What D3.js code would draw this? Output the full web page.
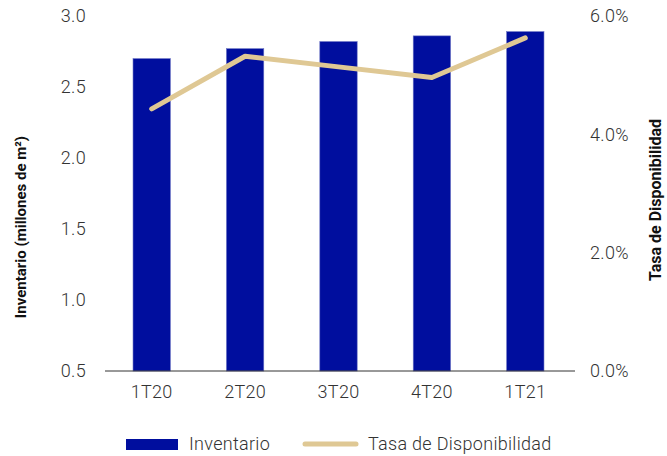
<!DOCTYPE html>
<html>
<head>
<meta charset="utf-8">
<script src="https://cdn.jsdelivr.net/npm/d3@7"></script>
<style>
body { margin: 0; background: #fff; }
svg text { font-family: Roboto, "Liberation Sans", sans-serif; }
</style>
</head>
<body>
<div class="chart"></div>
<script>
var categories = ["1T20", "2T20", "3T20", "4T20", "1T21"];
var inventario = [2.70, 2.77, 2.82, 2.86, 2.89];
var tasa = [4.43, 5.32, 5.14, 4.96, 5.63];
var leftTicks = [0.5, 1.0, 1.5, 2.0, 2.5, 3.0];
var rightTicks = [0, 2, 4, 6];

var width = 667, height = 456;
var margin = {top: 16, right: 95, bottom: 85, left: 105};

var svg = d3.select(".chart").append("svg")
    .attr("width", width)
    .attr("height", height);

var x = d3.scaleBand()
    .domain(categories)
    .range([margin.left, width - margin.right])
    .paddingInner(0.6)
    .paddingOuter(0.3);

var yL = d3.scaleLinear().domain([0.5, 3.0]).range([height - margin.bottom, margin.top]);
var yR = d3.scaleLinear().domain([0, 6]).range([height - margin.bottom, margin.top]);

// bars
svg.selectAll("rect.bar")
    .data(categories)
    .enter().append("rect")
    .attr("class", "bar")
    .attr("x", function(d) { return x(d); })
    .attr("width", x.bandwidth())
    .attr("y", function(d, i) { return yL(inventario[i]); })
    .attr("height", function(d, i) { return yL(0.5) - yL(inventario[i]); })
    .attr("fill", "#000e9e")
    .attr("stroke", "#6a73c4")
    .attr("stroke-width", 0.6);

// baseline
svg.append("line")
    .attr("x1", margin.left).attr("x2", width - margin.right + 3)
    .attr("y1", yL(0.5)).attr("y2", yL(0.5))
    .attr("stroke", "#333").attr("stroke-width", 1);

// line
var line = d3.line()
    .x(function(d, i) { return x(categories[i]) + x.bandwidth() / 2; })
    .y(function(d) { return yR(d); });

svg.append("path")
    .datum(tasa)
    .attr("d", line)
    .attr("fill", "none")
    .attr("stroke", "#dfc894")
    .attr("stroke-width", 5)
    .attr("stroke-linecap", "round")
    .attr("stroke-linejoin", "round");

function styleTicks(g) {
    g.select(".domain").remove();
    g.selectAll("text")
        .attr("font-size", "18px")
        .attr("fill", "#333")
        .attr("font-family", "Roboto")
        .attr("font-weight", 300)
        .attr("letter-spacing", "0.3px");
}

// left axis
var leftAxis = d3.axisLeft(yL).tickValues(leftTicks).tickFormat(d3.format(".1f")).tickSize(0).tickPadding(19);
var gL = svg.append("g").attr("transform", "translate(" + margin.left + ",0)").call(leftAxis);
styleTicks(gL);

// right axis
var rightAxis = d3.axisRight(yR).tickValues(rightTicks).tickFormat(function(d) { return d.toFixed(1) + "%"; }).tickSize(0).tickPadding(18);
var gR = svg.append("g").attr("transform", "translate(" + (width - margin.right) + ",0)").call(rightAxis);
styleTicks(gR);

// bottom axis
var bottomAxis = d3.axisBottom(x).tickSize(0).tickPadding(14);
var gB = svg.append("g").attr("transform", "translate(0," + yL(0.5) + ")").call(bottomAxis);
styleTicks(gB);

// axis titles
svg.append("text")
    .attr("transform", "translate(26,227) rotate(-90)")
    .attr("text-anchor", "middle")
    .attr("font-family", "'Liberation Sans', Arial, sans-serif")
    .attr("font-size", "15px")
    .attr("font-weight", 700)
    .attr("fill", "#111")
    .text("Inventario (millones de m²)");

svg.append("text")
    .attr("transform", "translate(661,200) rotate(-90)")
    .attr("text-anchor", "middle")
    .attr("font-family", "'Liberation Sans', Arial, sans-serif")
    .attr("font-size", "16px")
    .attr("font-weight", 700)
    .attr("fill", "#111")
    .text("Tasa de Disponibilidad");

// legend
svg.append("rect")
    .attr("x", 126).attr("y", 439).attr("width", 52).attr("height", 11)
    .attr("fill", "#000e9e");
svg.append("text")
    .attr("x", 189).attr("y", 450)
    .attr("font-size", "18px").attr("font-weight", 300).attr("fill", "#333")
    .attr("letter-spacing", "0.3px")
    .text("Inventario");
svg.append("line")
    .attr("x1", 305).attr("x2", 356).attr("y1", 444).attr("y2", 444)
    .attr("stroke", "#dfc894").attr("stroke-width", 5).attr("stroke-linecap", "round");
svg.append("text")
    .attr("x", 368).attr("y", 450)
    .attr("font-size", "18px").attr("font-weight", 300).attr("fill", "#333")
    .attr("letter-spacing", "0.3px")
    .text("Tasa de Disponibilidad");
</script>
</body>
</html>
